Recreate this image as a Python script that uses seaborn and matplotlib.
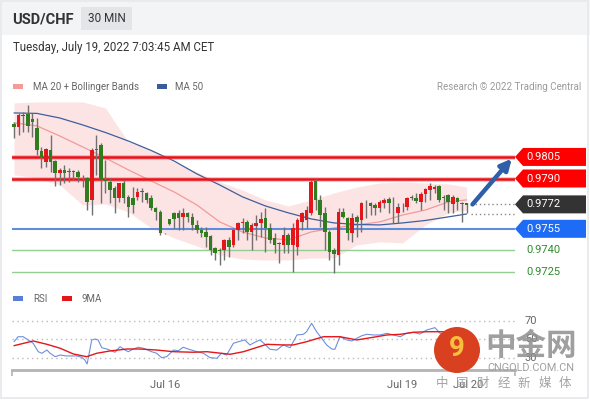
import numpy as np
import pandas as pd
import matplotlib
matplotlib.use("Agg")
import matplotlib.pyplot as plt
import seaborn as sns
from matplotlib.patches import Rectangle, Polygon, Ellipse

# ---------------- data ----------------
opens = [0.98279,0.98261,0.98338,0.98349,0.98312,0.98250,0.98094,0.98017,0.98099,0.98022,
         0.97937,0.97960,0.97950,0.97950,0.97948,0.97912,0.97902,0.97751,0.98102,0.98133,
         0.97893,0.97878,0.97832,0.97763,0.97867,0.97774,0.97763,0.97774,0.97810,0.97797,
         0.97763,0.97693,0.97669,0.97520,0.97617,0.97658,0.97658,0.97635,0.97658,0.97635,
         0.97577,0.97542,0.97530,0.97500,0.97415,0.97403,0.97403,0.97473,0.97438,0.97542,
         0.97589,0.97600,0.97530,0.97570,0.97589,0.97624,0.97554,0.97484,0.97447,0.97438,
         0.97507,0.97438,0.97426,0.97600,0.97612,0.97658,0.97883,0.97751,0.97658,0.97530,
         0.97403,0.97368,0.97669,0.97624,0.97519,0.97631,0.97612,0.97724,0.97728,0.97716,
         0.97693,0.97728,0.97756,0.97724,0.97662,0.97706,0.97704,0.97765,0.97767,0.97739,
         0.97790,0.97820,0.97825,0.97848,0.97774,0.97786,0.97723,0.97767,0.97728,0.97728]
highs = [0.98296,0.98354,0.98365,0.98412,0.98354,0.98319,0.98122,0.98111,0.98203,0.98029,
         0.97971,0.97994,0.97971,0.97960,0.97960,0.97925,0.97913,0.98111,0.98203,0.98147,
         0.98029,0.97902,0.97848,0.97869,0.97890,0.97786,0.97843,0.97832,0.97832,0.97809,
         0.97786,0.97704,0.97681,0.97522,0.97620,0.97669,0.97681,0.97693,0.97669,0.97658,
         0.97612,0.97565,0.97565,0.97507,0.97426,0.97415,0.97477,0.97496,0.97554,0.97600,
         0.97624,0.97612,0.97589,0.97646,0.97669,0.97693,0.97589,0.97519,0.97461,0.97565,
         0.97519,0.97589,0.97624,0.97669,0.97709,0.97890,0.97895,0.97786,0.97704,0.97542,
         0.97415,0.97693,0.97693,0.97635,0.97658,0.97646,0.97739,0.97751,0.97739,0.97732,
         0.97751,0.97763,0.97770,0.97774,0.97728,0.97728,0.97774,0.97786,0.97797,0.97809,
         0.97832,0.97867,0.97855,0.97855,0.97786,0.97793,0.97786,0.97774,0.97739,0.97732]
lows = [0.98180,0.98203,0.98226,0.98226,0.98191,0.98064,0.97971,0.97983,0.97948,0.97848,
        0.97855,0.97871,0.97878,0.97890,0.97878,0.97843,0.97681,0.97646,0.97925,0.97730,
        0.97797,0.97728,0.97658,0.97739,0.97728,0.97635,0.97658,0.97751,0.97739,0.97728,
        0.97681,0.97612,0.97507,0.97516,0.97580,0.97554,0.97542,0.97542,0.97600,0.97542,
        0.97519,0.97496,0.97426,0.97368,0.97333,0.97299,0.97333,0.97356,0.97426,0.97473,
        0.97519,0.97473,0.97403,0.97473,0.97496,0.97391,0.97450,0.97380,0.97310,0.97380,
        0.97380,0.97252,0.97368,0.97542,0.97554,0.97646,0.97681,0.97565,0.97403,0.97333,
        0.97241,0.97299,0.97624,0.97473,0.97461,0.97496,0.97530,0.97624,0.97646,0.97646,
        0.97669,0.97693,0.97662,0.97589,0.97589,0.97669,0.97681,0.97751,0.97728,0.97681,
        0.97739,0.97751,0.97797,0.97739,0.97681,0.97658,0.97658,0.97681,0.97600,0.97660]
closes = [0.98256,0.98342,0.98344,0.98266,0.98296,0.98099,0.98052,0.98104,0.98017,0.97941,
          0.97960,0.97937,0.97943,0.97946,0.97909,0.97907,0.97739,0.98099,0.98096,0.97890,
          0.97885,0.97820,0.97763,0.97867,0.97763,0.97704,0.97716,0.97809,0.97806,0.97751,
          0.97693,0.97669,0.97519,0.97518,0.97584,0.97617,0.97624,0.97662,0.97635,0.97577,
          0.97542,0.97523,0.97496,0.97403,0.97384,0.97396,0.97473,0.97426,0.97542,0.97589,
          0.97600,0.97530,0.97577,0.97589,0.97617,0.97554,0.97473,0.97438,0.97453,0.97507,
          0.97438,0.97554,0.97612,0.97658,0.97681,0.97878,0.97751,0.97646,0.97530,0.97391,
          0.97375,0.97669,0.97635,0.97519,0.97624,0.97600,0.97728,0.97720,0.97709,0.97693,
          0.97739,0.97751,0.97728,0.97720,0.97700,0.97711,0.97767,0.97770,0.97746,0.97790,
          0.97825,0.97848,0.97843,0.97751,0.97765,0.97739,0.97774,0.97739,0.97721,0.97719]

ma_idx = [0, 5, 10, 15, 20, 25, 30, 35, 40, 45, 50, 55, 60, 65, 70, 75, 80, 85, 90, 95, 99]
ma50 = [0.98356,0.98353,0.98321,0.98273,0.98220,0.98161,0.98095,0.98022,0.97932,0.97855,
        0.97772,0.97709,0.97661,0.97619,0.97591,0.97580,0.97577,0.97591,0.97608,0.97633,0.97653]
ma20 = [0.98287,0.98266,0.98196,0.98120,0.98043,0.97960,0.97883,0.97807,0.97716,0.97598,
        0.97528,0.97486,0.97473,0.97528,0.97556,0.97577,0.97598,0.97646,0.97681,0.97737,0.97751]
bb_upper = [0.98426,0.98433,0.98433,0.98433,0.98391,0.98154,0.98099,0.98015,0.97946,0.97876,
            0.97820,0.97751,0.97709,0.97751,0.97800,0.97841,0.97869,0.97876,0.97869,0.97862,0.97841]
bb_lower = [0.97925,0.97904,0.97855,0.97716,0.97723,0.97667,0.97556,0.97486,0.97431,0.97368,
            0.97340,0.97333,0.97333,0.97347,0.97347,0.97438,0.97459,0.97452,0.97577,0.97661,0.97681]

rsi_idx = [0,0.9,2.0,3.1,4.2,5.3,6.1,7.2,7.9,9.0,10.1,11.5,13.7,14.8,15.5,16.0,17.0,17.7,18.4,19.2,
           20.3,22.1,23.2,24.3,25.0,26.1,27.2,28.3,30.1,31.2,32.3,33.4,34.9,36.0,37.0,38.1,40.0,41.4,
           42.9,44.4,45.4,46.5,48.0,49.1,50.5,51.6,52.7,53.8,54.9,56.0,57.5,58.9,60.4,61.9,63.3,64.0,
           65.1,66.2,67.3,68.4,69.5,70.2,71.3,72.8,73.9,75.0,76.1,77.2,78.6,80.1,81.6,83.0,84.5,85.9,
           87.4,88.8,90.3,92.1,93.2,95.5,99.0]
rsi_val = [47.6,53.0,53.0,49.5,45.9,36.8,35.1,38.6,35.1,31.4,33.2,32.2,32.2,30.8,27.8,23.5,49.5,50.5,
           49.5,41.1,39.7,36.2,42.2,38.6,36.8,39.7,41.6,40.5,36.8,35.1,30.3,31.4,38.6,37.9,41.6,39.7,
           36.8,35.1,30.3,29.7,35.1,33.2,45.9,47.6,49.5,44.1,47.0,49.5,44.8,39.4,38.6,44.1,41.1,54.9,
           55.6,58.4,67.5,58.4,51.3,44.1,39.7,39.4,53.0,49.5,48.4,51.3,54.1,55.6,54.9,54.9,56.7,54.9,
           53.0,56.7,57.8,55.9,60.3,62.8,56.7,55.0,53.0]
ma9_idx = [0,4.2,7.2,10.1,13.0,15.9,18.1,21.0,24.7,27.6,31.2,34.9,39.2,42.2,47.3,50.2,55.3,58.9,
           61.1,64.0,67.7,71.3,75.0,78.6,81.6,84.5,87.4,90.3,93.2,96.0,99.0]
ma9_val = [43.3,48.4,44.8,40.5,34.3,31.4,35.1,37.6,39.7,39.7,38.6,36.8,36.2,36.8,34.0,36.8,44.8,44.1,
           44.1,47.6,53.0,53.0,49.5,52.4,54.9,55.6,57.8,58.4,58.4,58.0,57.5]

levels_res = [0.9805, 0.9790]
level_last = 0.9772
level_sup_blue = 0.9755
levels_sup_green = [0.9740, 0.9725]
rsi_levels = [70, 50, 30]
date_ticks = ["Jul 16", "Jul 19", "Jul 20"]
date_tick_idx = [33.0, 84.9, 99.3]
watermark_chars = ["中", "国", "财", "经", "新", "媒", "体"]

# ---------------- figure ----------------
sns.set_theme(style="white")
plt.rcParams['font.family'] = ['Roboto', 'DejaVu Sans']

W, H = 590, 400
fig = plt.figure(figsize=(5.9, 4.0), dpi=100)
fig.patch.set_facecolor("white")

def fx(px):
    return px / W

def fy(py):
    return 1 - py / H

# header band and card border
fig.patches.append(Rectangle((0, fy(35)), 1, 35 / H, transform=fig.transFigure,
                             facecolor="#f3f4f6", edgecolor="none", zorder=0))
fig.patches.append(Rectangle((fx(1), fy(398)), fx(587), 397 / H, transform=fig.transFigure,
                             facecolor="none", edgecolor="#e6e8eb", lw=1.2, zorder=0))
fig.patches.append(Rectangle((fx(81), fy(30)), fx(51), 23 / H, transform=fig.transFigure,
                             facecolor="#e3e5e8", edgecolor="none", zorder=1))
fig.text(fx(12), fy(19), "USD/CHF", fontsize=10.5, fontweight="bold", color="#333333", va="center")
fig.text(fx(106.5), fy(19), "30 MIN", fontsize=8.5, color="#333333", va="center", ha="center")
fig.text(fx(13), fy(47), "Tuesday, July 19, 2022 7:03:45 AM CET", fontsize=8.3, color="#333333", va="center")

# legends
fig.patches.append(Rectangle((fx(13), fy(89)), fx(10), 5 / H, transform=fig.transFigure,
                             facecolor="#f79a9a", edgecolor="none"))
fig.text(fx(33), fy(86.5), "MA 20 + Bollinger Bands", fontsize=7, color="#666666", va="center")
fig.patches.append(Rectangle((fx(157), fy(89)), fx(10), 5 / H, transform=fig.transFigure,
                             facecolor="#3a5b9c", edgecolor="none"))
fig.text(fx(175), fy(86.5), "MA 50", fontsize=7, color="#666666", va="center")
fig.text(fx(581), fy(86.5), "Research \u00a9 2022 Trading Central", fontsize=7, color="#9a9a9a",
         va="center", ha="right")

fig.patches.append(Rectangle((fx(13), fy(301)), fx(10), 5 / H, transform=fig.transFigure,
                             facecolor="#5b7fd6", edgecolor="none"))
fig.text(fx(33), fy(298.5), "RSI", fontsize=7, color="#666666", va="center")
fig.patches.append(Rectangle((fx(62), fy(301)), fx(10), 5 / H, transform=fig.transFigure,
                             facecolor="#e3171b", edgecolor="none"))
fig.text(fx(82), fy(298.5), "9MA", fontsize=7, color="#666666", va="center")

# ---------------- main price axes ----------------
XMIN, XMAX = -0.44, 109.6
ax = fig.add_axes([fx(12), fy(282), fx(503), 184 / H])
ax.set_xlim(XMIN, XMAX)
ax.set_ylim(0.97180, 0.98460)
ax.axis("off")

idx = np.arange(len(opens))
o = np.array(opens); c = np.array(closes); hi = np.array(highs); lo = np.array(lows)

ax.fill_between(ma_idx, bb_lower, bb_upper, color="#fde2e2", alpha=0.9, lw=0, zorder=1)
sns.lineplot(x=ma_idx, y=ma20, ax=ax, color="#f29a9a", lw=0.9, zorder=2, legend=False)
sns.lineplot(x=ma_idx, y=ma50, ax=ax, color="#3d5f9e", lw=0.9, zorder=2, legend=False)

for lv in levels_res:
    ax.axhline(lv, color="#ff5050", lw=3.6, alpha=0.35, zorder=3)
    ax.axhline(lv, color="#e8111a", lw=1.8, zorder=3)
ax.axhline(level_sup_blue, color="#5d8ddb", lw=1.5, zorder=3)
for lv in levels_sup_green:
    ax.axhline(lv, color="#93cf93", lw=1.0, zorder=3)

ax.vlines(idx, lo, hi, color="#707070", lw=1.0, zorder=4)
bull = c >= o
body_bottom = np.minimum(o, c)
body_h = np.maximum(np.abs(c - o), 0.00004)
colors = np.where(bull, "#e3171b", "#2f7d1f")
ax.bar(idx, body_h, bottom=body_bottom, width=0.78, color=colors, edgecolor="none", zorder=5)

ax.hlines([level_last, ma50[-1]], 100, XMAX, colors="#888888", linestyles=(0, (1, 2)), lw=1, zorder=3)
ax.annotate("", xy=(108.9, 0.98038), xytext=(100.3, level_last),
            arrowprops=dict(arrowstyle="-|>", color="#2e5fa8", lw=3.2, mutation_scale=16,
                            shrinkA=0, shrinkB=0), zorder=6, annotation_clip=False)

fig.canvas.draw()
inv = fig.transFigure.inverted()

def yfig_price(p):
    return inv.transform(ax.transData.transform((0, p)))[1]

def tag(price, color):
    yc = yfig_price(price)
    hh = 9 / H
    pts = [(fx(515), yc), (fx(523), yc + hh), (fx(586), yc + hh), (fx(586), yc - hh), (fx(523), yc - hh)]
    fig.patches.append(Polygon(pts, closed=True, transform=fig.transFigure, facecolor=color,
                               edgecolor="none", zorder=5))
    fig.text(fx(526), yc, f"{price:.4f}", fontsize=8, color="white", va="center", zorder=6)

for lv in levels_res:
    tag(lv, "#ff0000")
tag(level_last, "#333333")
tag(level_sup_blue, "#1e6cf5")
for lv in levels_sup_green:
    fig.text(fx(526), yfig_price(lv), f"{lv:.4f}", fontsize=8, color="#2e8b2e", va="center")

# ---------------- RSI axes ----------------
rax = fig.add_axes([fx(12), fy(370), fx(503), 65 / H])
rax.set_xlim(XMIN, XMAX)
rax.set_ylim(17, 87.3)
for lv in rsi_levels:
    rax.axhline(lv, color="#bbbbbb", lw=1, linestyle=(0, (1, 2.5)), zorder=1)
sns.lineplot(x=ma9_idx, y=ma9_val, ax=rax, color="#e3171b", lw=1.0, zorder=3, legend=False)
sns.lineplot(x=rsi_idx, y=rsi_val, ax=rax, color="#6f8fdc", lw=0.8, zorder=2, legend=False)
for s in ["top", "right", "left"]:
    rax.spines[s].set_visible(False)
rax.spines["bottom"].set_color("#b3b3b3")
rax.spines["bottom"].set_linewidth(2)
rax.set_yticks([])
rax.set_xticks(date_tick_idx)
rax.set_xticklabels(date_ticks, fontsize=8, color="#666666")
rax.tick_params(axis="x", length=0, pad=7)
rax.set_xticks([XMIN + 0.1, XMAX - 0.1], minor=True)
rax.tick_params(axis="x", which="minor", length=4, width=1.2, color="#b3b3b3", bottom=True)
rax.set_xlabel("")
rax.set_ylabel("")
rax.patch.set_alpha(0)

fig.canvas.draw()
for lv in rsi_levels:
    yv = inv.transform(rax.transData.transform((0, lv)))[1]
    fig.text(fx(531), yv, str(lv), fontsize=8, color="#666666", va="center", ha="center")

# ---------------- watermark ----------------
fig.patches.append(Ellipse((fx(457), fy(350)), 46 / W, 46 / H, transform=fig.transFigure,
                           facecolor="#d8401f", edgecolor="none", zorder=10))
fig.text(fx(457), fy(349), "9", fontsize=20, fontweight="bold", color="#f6bf3d",
         ha="center", va="center", zorder=11)
fig.text(fx(531), fy(346), "中金网", fontsize=22, fontweight="bold", color="#8e8e8e", alpha=0.85,
         ha="center", va="center", family=["Noto Sans CJK SC", "DejaVu Sans"], zorder=11)
fig.text(fx(531), fy(368), "CNGOLD.COM.CN", fontsize=7.8, color="#a0a0a0",
         ha="center", va="center", zorder=11)
for k, ch in enumerate(watermark_chars):
    fig.text(fx(442 + 20.5 * k), fy(383), ch, fontsize=9, color="#9a9a9a", alpha=0.9,
             ha="center", va="center", family=["Noto Sans CJK SC", "DejaVu Sans"], zorder=11)

fig.savefig("out.png", dpi=100)
